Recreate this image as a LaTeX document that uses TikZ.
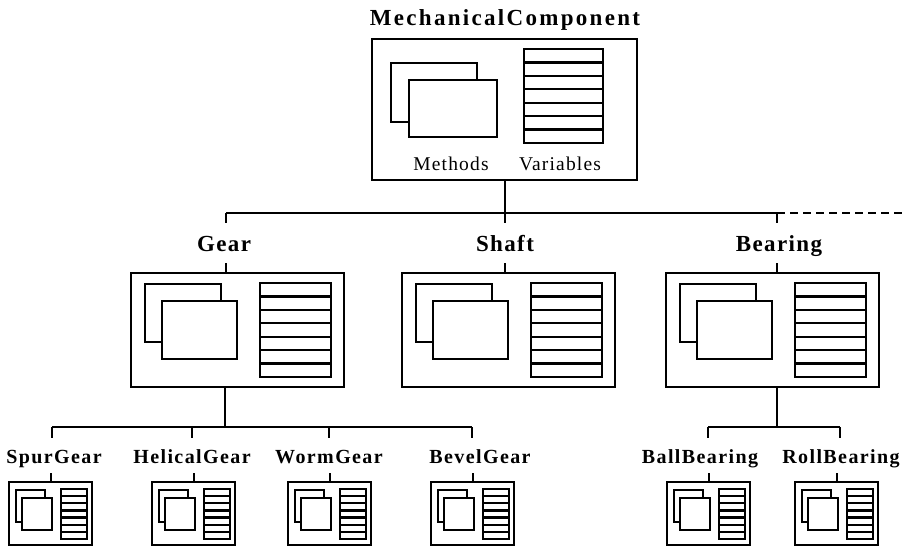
\documentclass[tikz,border=0pt]{standalone}
\usepackage{fontspec}
\setmainfont{Liberation Serif}
\newfontfamily\headfont[LetterSpace=10]{Liberation Serif}
\newfontfamily\midfont[LetterSpace=6]{Liberation Serif}
\newfontfamily\leaffont[LetterSpace=7]{Liberation Serif}
\newfontfamily\partfont[LetterSpace=6]{Liberation Serif}

% stack of seven variable slots: x1, y1, x2, y2
\newcommand\stackicon[4]{%
  \draw[icon] (#1,#2) rectangle (#3,#4);
  \foreach \k in {1,...,6}{%
    \draw[icon] (#1,{(#2)+((#4)-(#2))*\k/7}) -- (#3,{(#2)+((#4)-(#2))*\k/7});
  }%
}
% methods and variables icons of a middle class box (left, top)
\newcommand\midicons[2]{%
  \draw[icon] (#1+14,#2+11) rectangle (#1+90,#2+69);
  \draw[icon,fill=white] (#1+31,#2+28) rectangle (#1+106,#2+86);
  \stackicon{#1+129}{#2+10}{#1+200}{#2+104}%
}
% the same icons for a small leaf class box (left, top)
\newcommand\leaficons[2]{%
  \draw[icon] (#1+7,#2+8) rectangle (#1+36,#2+40);
  \draw[icon,fill=white] (#1+13,#2+16) rectangle (#1+43,#2+48);
  \stackicon{#1+52}{#2+7}{#1+78}{#2+57}%
}

\begin{document}
\begin{tikzpicture}[x=1pt,y=-1pt,
  classbox/.style={draw, line width=2.4pt, inner sep=0pt, outer sep=0pt, anchor=north west},
  midbox/.style={classbox, minimum width=213pt, minimum height=114pt},
  leafbox/.style={classbox, minimum width=83pt, minimum height=63pt},
  icon/.style={line width=2.2pt},
  wire/.style={line width=2pt},
  headlbl/.style={font=\fontsize{23}{25}\headfont\bfseries, anchor=base, inner sep=0pt},
  midlbl/.style={font=\fontsize{23}{25}\midfont\bfseries, anchor=base, inner sep=0pt},
  leaflbl/.style={font=\fontsize{20}{22}\leaffont\bfseries, anchor=base, inner sep=0pt},
  partlbl/.style={font=\fontsize{19.5}{21}\partfont, anchor=base, inner sep=0pt}]
\useasboundingbox (0,0) rectangle (902,547);

% ---- root class ----
\node[headlbl] (mctitle) at (505,25) {MechanicalComponent};
\node[classbox, minimum width=265pt, minimum height=141pt] (topbox) at (372,39) {};
\draw[icon] (391,63) rectangle (477,122);
\draw[icon,fill=white] (409,80) rectangle (497,137);
\stackicon{524}{49}{603}{143}
\node[partlbl] (methods) at (451,170) {Methods};
\node[partlbl] (variables) at (560,170) {Variables};

% ---- first level ----
\node[midlbl] (gearlbl) at (224,251) {Gear};
\node[midlbl] (shaftlbl) at (505,251) {Shaft};
\node[midlbl] (bearinglbl) at (779,251) {Bearing};

\node[midbox] (gearbox) at (131,273) {};
\node[midbox] (shaftbox) at (402,273) {};
\node[midbox] (bearingbox) at (666,273) {};
\midicons{131}{273}
\midicons{402}{273}
\midicons{666}{273}

\coordinate (busL) at (226,213);
\coordinate (busC) at (505,213);
\coordinate (busR) at (777,213);
\coordinate (busEnd) at (902,213);
\draw[wire] (busC |- topbox.south) -- (busC);
\draw[wire] (busL) -- (busR);
\draw[wire, dash pattern=on 8pt off 5pt] (busR) -- (busEnd);
\foreach \c in {busL,busC,busR}{\draw[wire] (\c) -- ++(0,10);}

\coordinate (gearTick) at (226,263);
\coordinate (shaftTick) at (505,263);
\coordinate (bearingTick) at (777,263);
\draw[wire] (gearTick) -- (gearTick |- gearbox.north);
\draw[wire] (shaftTick) -- (shaftTick |- shaftbox.north);
\draw[wire] (bearingTick) -- (bearingTick |- bearingbox.north);

% ---- gear subclasses ----
\coordinate (gearBus) at (225,427);
\coordinate (spurBus) at (52,427);
\coordinate (helicalBus) at (192,427);
\coordinate (wormBus) at (329,427);
\coordinate (bevelBus) at (472,427);
\draw[wire] (gearBus |- gearbox.south) -- (gearBus);
\draw[wire] (spurBus) -- (bevelBus);
\foreach \c in {spurBus,helicalBus,wormBus,bevelBus}{\draw[wire] (\c) -- ++(0,11);}

\node[leaflbl] (spurlbl) at (54,463) {SpurGear};
\node[leaflbl] (helicallbl) at (192,463) {HelicalGear};
\node[leaflbl] (wormlbl) at (329,463) {WormGear};
\node[leaflbl] (bevellbl) at (480,463) {BevelGear};

\node[leafbox] (spurbox) at (9,482) {};
\node[leafbox] (helicalbox) at (152,482) {};
\node[leafbox] (wormbox) at (288,482) {};
\node[leafbox] (bevelbox) at (431,482) {};
\leaficons{9}{482}
\leaficons{152}{482}
\leaficons{288}{482}
\leaficons{431}{482}

% ---- bearing subclasses ----
\coordinate (bearingBus) at (777,427);
\coordinate (ballBus) at (708,427);
\coordinate (rollBus) at (840,427);
\draw[wire] (bearingBus |- bearingbox.south) -- (bearingBus);
\draw[wire] (ballBus) -- (rollBus);
\foreach \c in {ballBus,rollBus}{\draw[wire] (\c) -- ++(0,11);}

\node[leaflbl] (balllbl) at (700,463) {BallBearing};
\node[leaflbl] (rolllbl) at (841,463) {RollBearing};

\node[leafbox] (ballbox) at (667,482) {};
\node[leafbox] (rollbox) at (795,482) {};
\leaficons{667}{482}
\leaficons{795}{482}

% ticks from the leaf labels down to their boxes
\foreach \b in {spurbox,helicalbox,wormbox,bevelbox,ballbox,rollbox}{%
  \draw[wire] (\b.north) -- ++(0,-9);
}
\end{tikzpicture}
\end{document}
